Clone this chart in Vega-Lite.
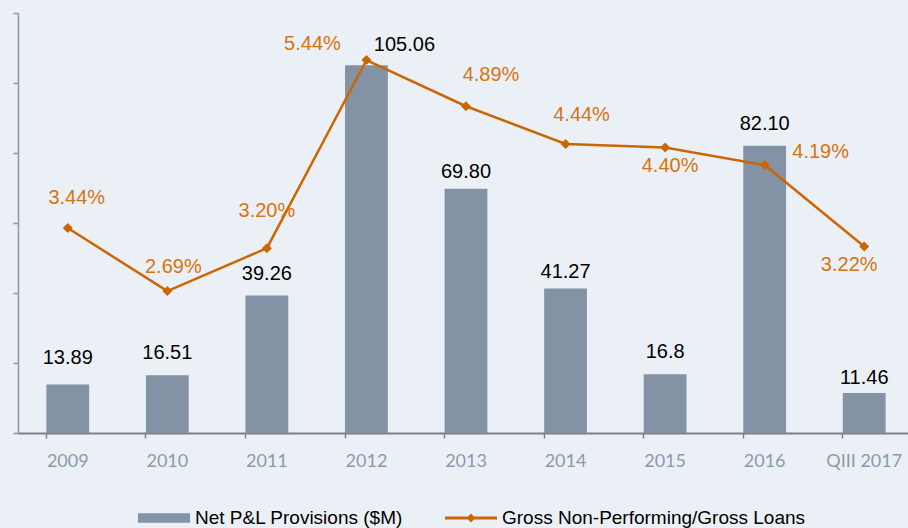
{
  "$schema": "https://vega.github.io/schema/vega-lite/v6.json",
  "width": 896,
  "height": 420,
  "autosize": {"type": "none"},
  "padding": {"left": 18, "top": 13, "right": -6, "bottom": 95},
  "background": "#EBF0F7",
  "config": {"view": {"stroke": null}, "font": "Liberation Sans"},
  "data": {
    "values": [
      {"period": "2009", "prov": 13.89, "provLabel": "13.89", "npl": 0.0344},
      {"period": "2010", "prov": 16.51, "provLabel": "16.51", "npl": 0.0269},
      {"period": "2011", "prov": 39.26, "provLabel": "39.26", "npl": 0.0320},
      {"period": "2012", "prov": 105.06, "provLabel": "105.06", "npl": 0.0544},
      {"period": "2013", "prov": 69.80, "provLabel": "69.80", "npl": 0.0489},
      {"period": "2014", "prov": 41.27, "provLabel": "41.27", "npl": 0.0444},
      {"period": "2015", "prov": 16.8, "provLabel": "16.8", "npl": 0.0440},
      {"period": "2016", "prov": 82.10, "provLabel": "82.10", "npl": 0.0419},
      {"period": "QIII 2017", "prov": 11.46, "provLabel": "11.46", "npl": 0.0322}
    ]
  },
  "encoding": {
    "x": {
      "field": "period", "type": "nominal", "sort": null,
      "scale": {"paddingInner": 0.57, "paddingOuter": 0.285},
      "axis": {
        "title": null, "labelAngle": 0, "labelFont": "Lato", "labelFontSize": 18,
        "labelColor": "#8A9AAD", "labelPadding": 14, "domainColor": "#808080",
        "domainWidth": 2, "tickColor": "#808080", "tickSize": 5, "tickWidth": 1.5,
        "bandPosition": 0, "grid": false
      }
    }
  },
  "layer": [
    {
      "encoding": {
        "y": {
          "field": "prov", "type": "quantitative",
          "scale": {"domain": [0, 120], "nice": false},
          "axis": {
            "title": null, "labels": false, "tickSize": 5, "grid": false,
            "values": [0, 20, 40, 60, 80, 100, 120],
            "domainColor": "#8796A8", "tickColor": "#8796A8", "domainWidth": 1.5, "tickWidth": 1.5
          }
        }
      },
      "layer": [
        {
          "mark": {"type": "bar"},
          "encoding": {
            "color": {
              "datum": "Net P&L Provisions ($M)",
              "scale": {
                "domain": ["Net P&L Provisions ($M)", "Gross Non-Performing/Gross Loans"],
                "range": ["#8393A5", "#CC6600"]
              },
              "legend": {
                "orient": "none", "legendX": 120, "legendY": 479,
                "direction": "horizontal", "title": null,
                "symbolSize": 2704, "labelFontSize": 19, "labelColor": "#000000",
                "labelFont": "Liberation Sans", "labelLimit": 500, "columnPadding": 41, "labelOffset": 5,
                "encode": {
                  "symbols": {
                    "update": {
                      "shape": {"signal": "datum.value === 'Net P&L Provisions ($M)' ? 'M-1,-0.18H1V0.18H-1Z' : 'M-1,-0.055H1V0.055H-1Z M0,-0.17L0.17,0L0,0.17L-0.17,0Z'"},
                      "fill": {"scale": "color", "field": "value"},
                      "stroke": {"value": "transparent"},
                      "strokeWidth": {"value": 0},
                      "opacity": {"value": 1}
                    }
                  }
                }
              }
            }
          }
        },
        {
          "transform": [{"filter": "datum.period === '2009'"}],
          "mark": {"type": "text", "baseline": "middle", "dy": -26, "fontSize": 20, "color": "#000000"},
          "encoding": {"text": {"field": "provLabel"}}
        },
        {
          "transform": [{"filter": "indexof(['2010','2011','2015','2016'], datum.period) >= 0"}],
          "mark": {"type": "text", "baseline": "middle", "dy": -22, "fontSize": 20, "color": "#000000"},
          "encoding": {"text": {"field": "provLabel"}}
        },
        {
          "transform": [{"filter": "indexof(['2013','2014'], datum.period) >= 0"}],
          "mark": {"type": "text", "baseline": "middle", "dy": -17, "fontSize": 20, "color": "#000000"},
          "encoding": {"text": {"field": "provLabel"}}
        },
        {
          "transform": [{"filter": "datum.period === 'QIII 2017'"}],
          "mark": {"type": "text", "baseline": "middle", "dy": -15, "fontSize": 20, "color": "#000000"},
          "encoding": {"text": {"field": "provLabel"}}
        },
        {
          "transform": [{"filter": "datum.period === '2012'"}],
          "mark": {"type": "text", "baseline": "middle", "dx": 38, "dy": -20, "fontSize": 20, "color": "#000000"},
          "encoding": {"text": {"field": "provLabel"}}
        }
      ]
    },
    {
      "encoding": {
        "y": {
          "field": "npl", "type": "quantitative",
          "scale": {"domain": [0.01, 0.06], "nice": false, "zero": false},
          "axis": null
        }
      },
      "layer": [
        {
          "mark": {"type": "line", "strokeWidth": 2.5},
          "encoding": {"color": {"datum": "Gross Non-Performing/Gross Loans"}}
        },
        {
          "mark": {"type": "point", "shape": "diamond", "filled": true, "size": 100, "opacity": 1},
          "encoding": {"color": {"datum": "Gross Non-Performing/Gross Loans"}}
        },
        {
          "transform": [{"filter": "datum.period === '2009'"}],
          "mark": {"type": "text", "baseline": "middle", "dx": 9, "dy": -30, "fontSize": 20, "color": "#D9730D"},
          "encoding": {"text": {"field": "npl", "format": ".2%"}}
        },
        {
          "transform": [{"filter": "datum.period === '2010'"}],
          "mark": {"type": "text", "baseline": "middle", "dx": 6, "dy": -24, "fontSize": 20, "color": "#D9730D"},
          "encoding": {"text": {"field": "npl", "format": ".2%"}}
        },
        {
          "transform": [{"filter": "datum.period === '2011'"}],
          "mark": {"type": "text", "baseline": "middle", "dx": 0, "dy": -37, "fontSize": 20, "color": "#D9730D"},
          "encoding": {"text": {"field": "npl", "format": ".2%"}}
        },
        {
          "transform": [{"filter": "datum.period === '2012'"}],
          "mark": {"type": "text", "baseline": "middle", "dx": -54, "dy": -16, "fontSize": 20, "color": "#D9730D"},
          "encoding": {"text": {"field": "npl", "format": ".2%"}}
        },
        {
          "transform": [{"filter": "datum.period === '2013'"}],
          "mark": {"type": "text", "baseline": "middle", "dx": 25, "dy": -31, "fontSize": 20, "color": "#D9730D"},
          "encoding": {"text": {"field": "npl", "format": ".2%"}}
        },
        {
          "transform": [{"filter": "datum.period === '2014'"}],
          "mark": {"type": "text", "baseline": "middle", "dx": 16, "dy": -29, "fontSize": 20, "color": "#D9730D"},
          "encoding": {"text": {"field": "npl", "format": ".2%"}}
        },
        {
          "transform": [{"filter": "datum.period === '2015'"}],
          "mark": {"type": "text", "baseline": "middle", "dx": 5, "dy": 19, "fontSize": 20, "color": "#D9730D"},
          "encoding": {"text": {"field": "npl", "format": ".2%"}}
        },
        {
          "transform": [{"filter": "datum.period === '2016'"}],
          "mark": {"type": "text", "baseline": "middle", "dx": 56, "dy": -13, "fontSize": 20, "color": "#D9730D"},
          "encoding": {"text": {"field": "npl", "format": ".2%"}}
        },
        {
          "transform": [{"filter": "datum.period === 'QIII 2017'"}],
          "mark": {"type": "text", "baseline": "middle", "dx": -15, "dy": 18, "fontSize": 20, "color": "#D9730D"},
          "encoding": {"text": {"field": "npl", "format": ".2%"}}
        }
      ]
    }
  ],
  "resolve": {"scale": {"y": "independent"}}
}
